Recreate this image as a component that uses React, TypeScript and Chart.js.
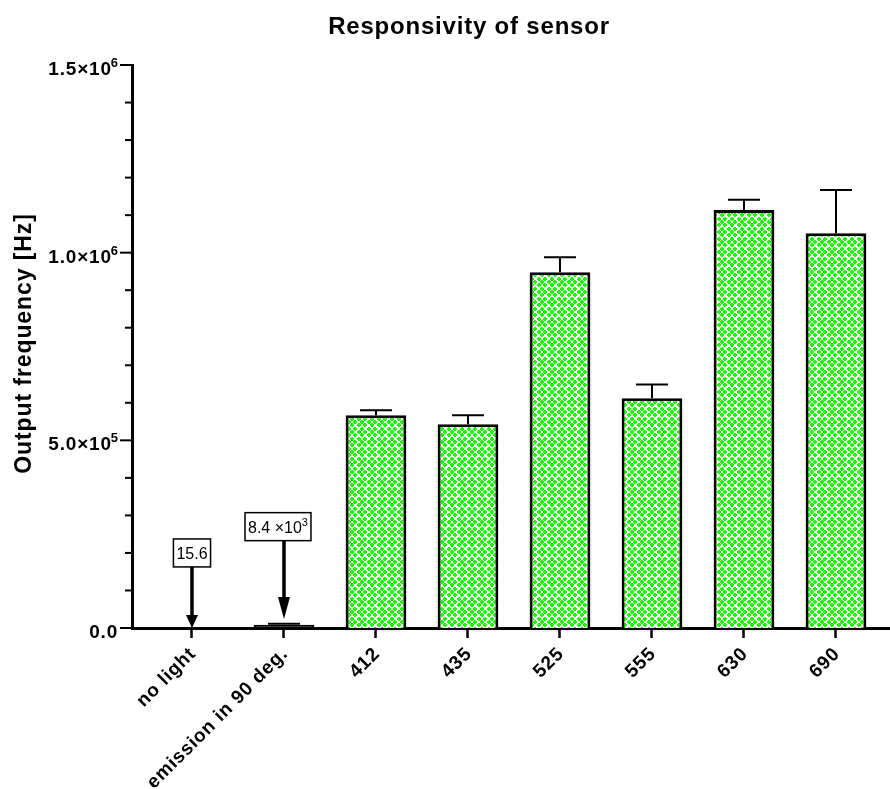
import React, { useEffect, useRef } from 'react';
import { Chart, registerables } from 'chart.js';

Chart.register(...registerables);

// ---- data ----
const categories = ['no light', 'emission in 90 deg.', '412', '435', '525', '555', '630', '690'];
const values = [15.6, 8400, 567000, 543000, 948000, 612000, 1114000, 1052000];
const errors = [0, 3000, 13000, 24000, 40000, 37000, 27000, 115000];
const yMin = 0;
const yMax = 1.5e6;
const yMinorStep = 1e5;
const yMajorStep = 5e5;
const titleText = 'Responsivity of sensor';
const yTitleText = 'Output frequency [Hz]';
const noteTexts = ['15.6', '8.4 ×10'];
const noteSups = ['', '3'];
const noteIndex = [0, 1];
const noteBoxValues = [2.0e5, 2.7e5];
const noteTipValues = [0, 2.4e4];

const FONT = '"Liberation Sans", Arial, Helvetica, sans-serif';

function makePattern(): CanvasPattern | string {
  const c = document.createElement('canvas');
  c.width = 20;
  c.height = 20;
  const g = c.getContext('2d');
  if (!g) return '#22ee00';
  g.fillStyle = '#ffffff';
  g.fillRect(0, 0, 20, 20);
  g.fillStyle = '#14ff00';
  const plus = (x: number, y: number) => {
    for (const ox of [-20, 0, 20]) {
      for (const oy of [-20, 0, 20]) {
        g.fillRect(x + ox, y + oy + 1, 4, 2);
        g.fillRect(x + ox + 1, y + oy, 2, 4);
      }
    }
  };
  const a = [0, 7, 13];
  const b = [3, 10, 17];
  a.forEach((x) => a.forEach((y) => plus(x, y)));
  b.forEach((x) => b.forEach((y) => plus(x, y)));
  const p = g.createPattern(c, 'repeat');
  return p || '#22ee00';
}

function setText(ctx: any, font: string, spacing: string, align: CanvasTextAlign, base: CanvasTextBaseline) {
  ctx.font = font;
  try { ctx.letterSpacing = spacing; } catch (e) { /* ignore */ }
  ctx.textAlign = align;
  ctx.textBaseline = base;
}

function fmtTick(v: number): [string, string] {
  if (v === 0) return ['0.0', ''];
  const e = Math.floor(Math.log10(v) + 1e-9);
  const m = v / Math.pow(10, e);
  return [m.toFixed(1) + '×10', String(e)];
}

const decor = {
  id: 'decor',
  afterDatasetsDraw(chart: any) {
    const ctx = chart.ctx;
    const ys = chart.scales.y;
    const meta = chart.getDatasetMeta(0);
    ctx.save();
    ctx.strokeStyle = '#000';
    ctx.lineWidth = 2;
    meta.data.forEach((bar: any, i: number) => {
      const e = errors[i];
      if (!e) return;
      const x = bar.x;
      const y0 = ys.getPixelForValue(values[i]);
      const y1 = ys.getPixelForValue(values[i] + e);
      ctx.beginPath();
      ctx.moveTo(x, y0);
      ctx.lineTo(x, y1);
      ctx.moveTo(x - 16, y1);
      ctx.lineTo(x + 16, y1);
      ctx.stroke();
    });
    ctx.restore();
  },
  afterDraw(chart: any) {
    const ctx = chart.ctx;
    const ys = chart.scales.y;
    const xs = chart.scales.x;
    const area = chart.chartArea;
    ctx.save();
    ctx.fillStyle = '#000';
    ctx.strokeStyle = '#000';

    // y ticks (major + minor) and labels
    ys.ticks.forEach((t: any) => {
      const py = ys.getPixelForValue(t.value);
      const r = t.value / yMajorStep;
      const major = Math.abs(r - Math.round(r)) < 1e-6;
      ctx.lineWidth = 2;
      ctx.beginPath();
      ctx.moveTo(area.left - (major ? 12 : 7), py);
      ctx.lineTo(area.left, py);
      ctx.stroke();
      if (major) {
        const [main, sup] = fmtTick(t.value);
        const right = area.left - 14;
        let supW = 0;
        if (sup) {
          setText(ctx, 'bold 13px ' + FONT, '0px', 'right', 'alphabetic');
          supW = ctx.measureText(sup).width;
          ctx.fillText(sup, right, py + 2);
        }
        setText(ctx, 'bold 19px ' + FONT, '0.8px', 'right', 'alphabetic');
        ctx.fillText(main, right - supW + (sup ? 1 : 0), py + 10);
      }
    });

    // x labels
    categories.forEach((lab, i) => {
      const px = xs.getPixelForValue(i);
      ctx.save();
      ctx.translate(px + 1, area.bottom + 23);
      ctx.rotate(-Math.PI / 4);
      setText(ctx, 'bold 19px ' + FONT, '0.8px', 'right', 'middle');
      ctx.fillText(lab, 0, 0);
      ctx.restore();
    });

    // title
    setText(ctx, 'bold 24px ' + FONT, '0.8px', 'center', 'alphabetic');
    ctx.fillText(titleText, 469, 34);

    // y axis title
    ctx.save();
    ctx.translate(25, (area.top + area.bottom) / 2 - 3);
    ctx.rotate(-Math.PI / 2);
    setText(ctx, 'bold 23px ' + FONT, '0.9px', 'center', 'middle');
    ctx.fillText(yTitleText, 0, 0);
    ctx.restore();

    // annotations
    const shifts = [0, -6];
    const heads = [13, 22];
    noteTexts.forEach((txt, k) => {
      const ax = xs.getPixelForValue(noteIndex[k]);
      const cx = ax + shifts[k];
      const cy = ys.getPixelForValue(noteBoxValues[k]);
      const tip = ys.getPixelForValue(noteTipValues[k]);
      setText(ctx, '16px ' + FONT, '0px', 'left', 'alphabetic');
      const mw = ctx.measureText(txt).width;
      let sw = 0;
      if (noteSups[k]) {
        ctx.font = '11px ' + FONT;
        sw = ctx.measureText(noteSups[k]).width;
      }
      const w = mw + sw + 6;
      const h = 28;
      ctx.fillStyle = '#fff';
      ctx.fillRect(cx - w / 2, cy - h / 2, w, h);
      ctx.lineWidth = 1.5;
      ctx.strokeRect(cx - w / 2, cy - h / 2, w, h);
      ctx.fillStyle = '#000';
      const tx = cx - (mw + sw) / 2;
      setText(ctx, '16px ' + FONT, '0px', 'left', 'alphabetic');
      ctx.fillText(txt, tx, cy + 6);
      if (noteSups[k]) {
        ctx.font = '11px ' + FONT;
        ctx.fillText(noteSups[k], tx + mw, cy - 1);
      }
      // arrow
      const hl = heads[k];
      ctx.lineWidth = 3.5;
      ctx.beginPath();
      ctx.moveTo(ax, cy + h / 2);
      ctx.lineTo(ax, tip - hl + 2);
      ctx.stroke();
      ctx.beginPath();
      ctx.moveTo(ax - 6, tip - hl);
      ctx.lineTo(ax + 6, tip - hl);
      ctx.lineTo(ax, tip);
      ctx.closePath();
      ctx.fill();
    });

    ctx.restore();
  },
};

export default function App() {
  const ref = useRef<HTMLCanvasElement | null>(null);
  useEffect(() => {
    if (!ref.current) return;
    const pattern = makePattern();
    const chart = new Chart(ref.current, {
      type: 'bar',
      data: {
        datasets: [
          {
            data: values.map((v, i) => ({ x: i, y: v })),
            // very short bars are entirely covered by their outline in the original
            backgroundColor: (c: any) => (c.raw && c.raw.y < 2e4 ? '#000' : (pattern as any)),
            borderColor: '#000',
            borderWidth: 3,
            barPercentage: 0.66,
            categoryPercentage: 1,
          },
        ],
      },
      options: {
        animation: false,
        responsive: false,
        events: [],
        layout: { padding: { top: 65, left: 0, right: 0, bottom: 0 } },
        plugins: { legend: { display: false }, tooltip: { enabled: false }, title: { display: false } },
        scales: {
          x: {
            type: 'linear',
            min: -0.652,
            max: 7.587,
            offset: false,
            afterBuildTicks: (s: any) => {
              s.ticks = categories.map((_, i) => ({ value: i }));
            },
            afterFit: (s: any) => {
              s.height = 161;
              s.paddingLeft = 0;
              s.paddingRight = 0;
            },
            ticks: { display: false },
            grid: {
              display: true,
              offset: false,
              drawOnChartArea: false,
              drawTicks: true,
              tickLength: 10,
              tickWidth: 2.5,
              tickColor: '#000',
            },
            border: { display: true, width: 3, color: '#000' },
          },
          y: {
            type: 'linear',
            min: yMin,
            max: yMax,
            ticks: { display: false, stepSize: yMinorStep },
            afterFit: (s: any) => {
              s.width = 132;
              s.paddingTop = 0;
              s.paddingBottom = 0;
            },
            grid: { display: false },
            border: { display: true, width: 3, color: '#000' },
          },
        },
      } as any,
      plugins: [decor],
    });
    return () => chart.destroy();
  }, []);
  return (
    <div style={{ position: 'absolute', left: 0, top: 0, width: 890, height: 789 }}>
      <canvas ref={ref} width={890} height={789} style={{ display: 'block' }} />
    </div>
  );
}
